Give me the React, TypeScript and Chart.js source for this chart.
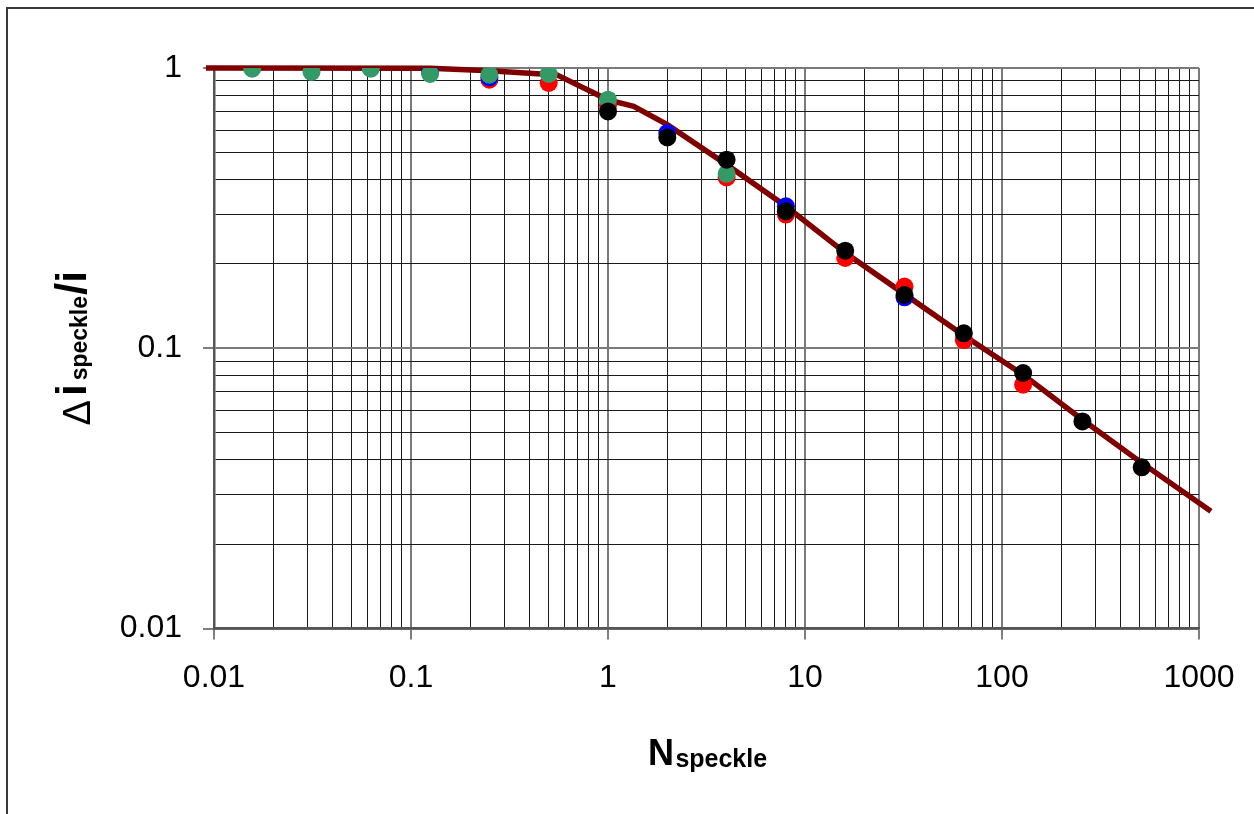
import React, { useEffect, useRef } from 'react';
import { Chart, registerables } from 'chart.js';

Chart.register(...registerables);

// ---------- data ----------
const xTickLabels = ['0.01', '0.1', '1', '10', '100', '1000'];
const yTickLabels = ['0.01', '0.1', '1'];

const curveX = [0.0091, 0.125, 0.25, 0.55, 1, 1.35, 2, 4, 8, 16, 32, 64, 128, 256, 512, 1150];
const curveY = [1.0, 0.998, 0.978, 0.945, 0.77, 0.73, 0.628, 0.452, 0.321, 0.219, 0.156, 0.111, 0.0805, 0.0556, 0.039, 0.0262];

const redX = [0.25, 0.5, 1, 4, 8, 16, 32, 64, 128];
const redY = [0.908, 0.884, 0.736, 0.407, 0.3, 0.21, 0.166, 0.107, 0.0741];

const blueX = [0.0625, 0.125, 0.25, 2, 8, 32];
const blueY = [1.0, 0.968, 0.926, 0.586, 0.321, 0.152];

const greenX = [0.015625, 0.03125, 0.0625, 0.125, 0.25, 0.5, 1, 4];
const greenY = [0.994, 0.968, 0.994, 0.952, 0.946, 0.952, 0.771, 0.419];

const blackX = [1, 2, 4, 8, 16, 32, 64, 128, 256, 512];
const blackY = [0.7, 0.565, 0.471, 0.308, 0.223, 0.155, 0.113, 0.0816, 0.0548, 0.0376];

const FONT = "'Liberation Sans', Arial, sans-serif";

const toPoints = (xs: number[], ys: number[]) => xs.map((x, i) => ({ x, y: ys[i] }));

function logGridValues(labels: string[]) {
  const majors = labels.map(Number);
  const vals: number[] = [];
  for (let i = 0; i < majors.length - 1; i++) {
    for (let m = 1; m <= 9; m++) vals.push(majors[i] * m);
  }
  vals.push(majors[majors.length - 1]);
  return vals;
}

const isMajor = (v: number) => Math.abs(Math.log10(v) - Math.round(Math.log10(v))) < 1e-9;

function labelFor(labels: string[]) {
  return (value: any) => {
    const v = Number(value);
    if (!isMajor(v)) return '';
    const found = labels.find((l) => Math.abs(Number(l) - v) < v * 1e-6);
    return found ?? '';
  };
}

const framePlugin = {
  id: 'frame',
  beforeDraw(chart: any) {
    const { ctx } = chart;
    ctx.save();
    ctx.strokeStyle = '#3a3a3a';
    ctx.lineWidth = 2;
    ctx.beginPath();
    ctx.moveTo(7, chart.height + 5);
    ctx.lineTo(7, 8);
    ctx.lineTo(chart.width + 5, 8);
    ctx.stroke();
    ctx.restore();
  },
};

const titlesPlugin = {
  id: 'titles',
  afterDraw(chart: any) {
    const { ctx, chartArea } = chart;
    ctx.save();
    ctx.fillStyle = '#000';
    ctx.textAlign = 'left';
    ctx.textBaseline = 'alphabetic';
    // x title: N + subscript speckle
    ctx.font = `bold 36px ${FONT}`;
    const wN = ctx.measureText('N').width;
    ctx.font = `bold 25px ${FONT}`;
    const wS = ctx.measureText('speckle').width;
    const gap = 1.5;
    const cx = (chartArea.left + chartArea.right) / 2 + 1;
    const x0 = cx - (wN + gap + wS) / 2;
    ctx.font = `bold 36px ${FONT}`;
    ctx.fillText('N', x0, 765);
    ctx.font = `bold 25px ${FONT}`;
    ctx.fillText('speckle', x0 + wN + gap, 767);

    // y title: Δ i_speckle / i (rotated)
    const cy = (chartArea.top + chartArea.bottom) / 2;
    ctx.translate(0, cy);
    ctx.rotate(-Math.PI / 2);
    const runs = [
      { t: '\u0394', f: `38px ${FONT}`, base: 90, after: 4 },
      { t: 'i', f: `bold 42px ${FONT}`, base: 86, after: 4 },
      { t: 'speckle', f: `bold 23px ${FONT}`, base: 87, after: 1 },
      { t: '/', f: `bold 44px ${FONT}`, base: 86, after: 0 },
      { t: 'i', f: `bold 42px ${FONT}`, base: 86, after: 0 },
    ];
    let total = 0;
    const widths: number[] = [];
    for (const r of runs) {
      ctx.font = r.f;
      const w = ctx.measureText(r.t).width;
      widths.push(w);
      total += w + r.after;
    }
    let pos = -total / 2;
    runs.forEach((r, i) => {
      ctx.font = r.f;
      ctx.fillText(r.t, pos, r.base);
      pos += widths[i] + r.after;
    });
    ctx.restore();
  },
};

function gridOpts() {
  return {
    display: true,
    drawTicks: true,
    tickLength: 11,
    color: (c: any) => (c.tick && isMajor(c.tick.value) ? '#7a7a7a' : '#1a1a1a'),
    lineWidth: (c: any) => (c.tick && isMajor(c.tick.value) ? 2 : 1),
    tickColor: (c: any) => (c.tick && isMajor(c.tick.value) ? '#555555' : 'rgba(0,0,0,0)'),
    tickWidth: 1.5,
  };
}

export default function App() {
  const ref = useRef<HTMLCanvasElement | null>(null);

  useEffect(() => {
    document.body.style.margin = '0';
    const canvas = ref.current;
    if (!canvas) return;
    const xGrid = logGridValues(xTickLabels);
    const yGrid = logGridValues(yTickLabels);
    const R = 9;

    const chart = new Chart(canvas, {
      type: 'scatter',
      data: {
        datasets: [
          { label: 'black', data: toPoints(blackX, blackY), backgroundColor: '#000000', borderWidth: 0, pointRadius: R, order: 0 },
          { label: 'green', data: toPoints(greenX, greenY), backgroundColor: '#339966', borderWidth: 0, pointRadius: R, order: 1 },
          { label: 'blue', data: toPoints(blueX, blueY), backgroundColor: '#0000ff', borderWidth: 0, pointRadius: R, order: 2 },
          { label: 'red', data: toPoints(redX, redY), backgroundColor: '#ff0000', borderWidth: 0, pointRadius: R, order: 3 },
          {
            label: 'model',
            data: toPoints(curveX, curveY),
            showLine: true,
            borderColor: '#800000',
            borderWidth: 5.5,
            pointRadius: 0,
            tension: 0,
            clip: false as any,
            order: 4,
          } as any,
        ],
      },
      options: {
        animation: false,
        responsive: false,
        devicePixelRatio: 1,
        layout: { padding: { left: 0, top: 68, right: 55, bottom: 0 } },
        plugins: {
          legend: { display: false },
          tooltip: { enabled: false },
        },
        scales: {
          x: {
            type: 'logarithmic',
            min: 0.01,
            max: 1000,
            afterBuildTicks: (axis: any) => {
              axis.ticks = xGrid.map((v) => ({ value: v, major: isMajor(v) }));
            },
            afterFit: (axis: any) => {
              axis.height = 185.5;
            },
            grid: gridOpts() as any,
            border: { display: true, color: '#555555', width: 2.5 },
            ticks: {
              autoSkip: false,
              maxRotation: 0,
              padding: 19,
              color: '#000',
              font: { family: FONT, size: 32 },
              callback: labelFor(xTickLabels),
            },
          },
          y: {
            type: 'logarithmic',
            min: 0.01,
            max: 1,
            afterBuildTicks: (axis: any) => {
              axis.ticks = yGrid.map((v) => ({ value: v, major: isMajor(v) }));
            },
            afterFit: (axis: any) => {
              axis.width = 214;
            },
            grid: gridOpts() as any,
            border: { display: true, color: '#555555', width: 2.5 },
            ticks: {
              autoSkip: false,
              padding: 21,
              color: '#000',
              font: { family: FONT, size: 32 },
              callback: labelFor(yTickLabels),
            },
          },
        },
      },
      plugins: [framePlugin, titlesPlugin],
    });
    return () => chart.destroy();
  }, []);

  return <canvas ref={ref} width={1254} height={814} style={{ display: 'block' }} />;
}
